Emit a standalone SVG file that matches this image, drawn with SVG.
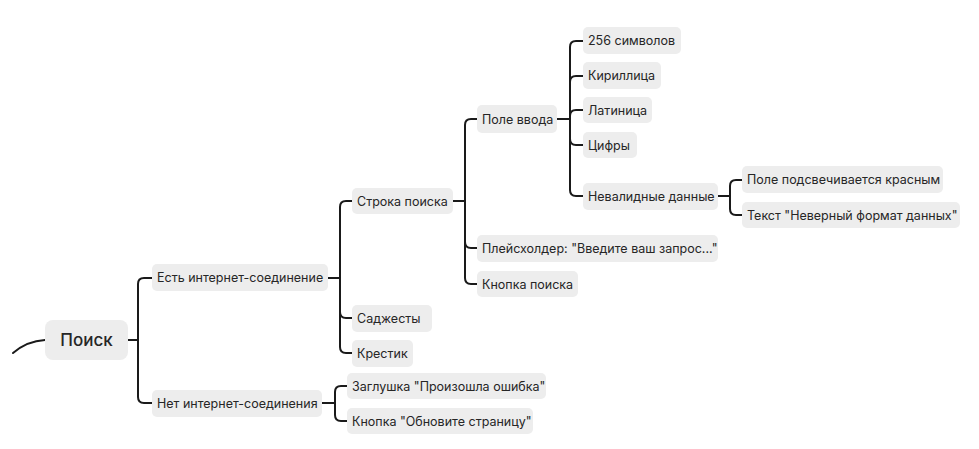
<svg xmlns="http://www.w3.org/2000/svg" width="979" height="449" viewBox="0 0 979 449">
  <style>
    .box { fill: #ededed; }
    .lbl { font-family: "Inter", "Noto Sans", "Liberation Sans", sans-serif; font-size: 12.5px; fill: #262626; }
    .root { font-size: 17px; font-weight: 500; }
    .edge { fill: none; stroke: #1a1a1a; stroke-width: 2; stroke-linecap: round; }
  </style>
  <rect width="979" height="449" fill="#ffffff"/>

  <g id="connectors">
    <!-- incoming stub into the root -->
    <path class="edge" d="M13,353 Q27,341 45,340"/>
    <!-- Поиск -->
    <path class="edge" d="M128,340 H138 V284 Q138,278 144,278 H152"/>
    <path class="edge" d="M138,340 V397 Q138,403 144,403 H152"/>
    <!-- Есть интернет-соединение -->
    <path class="edge" d="M328,278 H340 V207 Q340,201 346,201 H352"/>
    <path class="edge" d="M340,278 V312 Q340,318 346,318 H352"/>
    <path class="edge" d="M340,278 V347 Q340,353 346,353 H352"/>
    <!-- Нет интернет-соединения -->
    <path class="edge" d="M322,403 H335 V392 Q335,386 341,386 H347"/>
    <path class="edge" d="M335,403 V415 Q335,421 341,421 H347"/>
    <!-- Строка поиска -->
    <path class="edge" d="M453,201 H465 V125 Q465,119 471,119 H477"/>
    <path class="edge" d="M465,201 V242 Q465,248 471,248 H477"/>
    <path class="edge" d="M465,201 V278 Q465,284 471,284 H477"/>
    <!-- Поле ввода -->
    <path class="edge" d="M557,119 H570 V47 Q570,41 576,41 H583"/>
    <path class="edge" d="M570,119 V82 Q570,76 576,76 H583"/>
    <path class="edge" d="M570,119 V116 Q570,110 576,110 H583"/>
    <path class="edge" d="M570,119 V139 Q570,145 576,145 H583"/>
    <path class="edge" d="M570,119 V190 Q570,196 576,196 H583"/>
    <!-- Невалидные данные -->
    <path class="edge" d="M718,196 H730 V186 Q730,180 736,180 H742"/>
    <path class="edge" d="M730,196 V209 Q730,215 736,215 H742"/>
  </g>

  <g id="n-root">
    <rect class="box" x="45" y="320" width="83" height="40" rx="8"/>
    <text class="lbl root" x="86.5" y="346" text-anchor="middle">Поиск</text>
  </g>

  <g id="n-online">
    <rect class="box" x="152" y="264" width="176" height="27" rx="5"/>
    <text class="lbl" x="157" y="282">Есть интернет-соединение</text>
  </g>
  <g id="n-offline">
    <rect class="box" x="152" y="390" width="170" height="27" rx="5"/>
    <text class="lbl" x="157" y="408">Нет интернет-соединения</text>
  </g>

  <g id="n-searchbar">
    <rect class="box" x="352" y="188" width="101" height="26" rx="5"/>
    <text class="lbl" x="357" y="206">Строка поиска</text>
  </g>
  <g id="n-suggests">
    <rect class="box" x="352" y="305" width="80" height="27" rx="5"/>
    <text class="lbl" x="357" y="323">Саджесты</text>
  </g>
  <g id="n-clear">
    <rect class="box" x="352" y="340" width="61" height="27" rx="5"/>
    <text class="lbl" x="357" y="358">Крестик</text>
  </g>

  <g id="n-stub">
    <rect class="box" x="347" y="373" width="199" height="26" rx="5"/>
    <text class="lbl" x="352" y="391">Заглушка "Произошла ошибка"</text>
  </g>
  <g id="n-reload">
    <rect class="box" x="347" y="408" width="186" height="26" rx="5"/>
    <text class="lbl" x="352" y="426">Кнопка "Обновите страницу"</text>
  </g>

  <g id="n-input">
    <rect class="box" x="477" y="105" width="80" height="28" rx="5"/>
    <text class="lbl" x="482" y="124">Поле ввода</text>
  </g>
  <g id="n-placeholder">
    <rect class="box" x="477" y="235" width="241" height="27" rx="5"/>
    <text class="lbl" x="482" y="253">Плейсхолдер: "Введите ваш запрос..."</text>
  </g>
  <g id="n-searchbtn">
    <rect class="box" x="477" y="271" width="101" height="26" rx="5"/>
    <text class="lbl" x="482" y="289">Кнопка поиска</text>
  </g>

  <g id="n-256">
    <rect class="box" x="583" y="27" width="98" height="27" rx="5"/>
    <text class="lbl" x="588" y="45">256 символов</text>
  </g>
  <g id="n-cyr">
    <rect class="box" x="583" y="62" width="78" height="27" rx="5"/>
    <text class="lbl" x="588" y="80">Кириллица</text>
  </g>
  <g id="n-lat">
    <rect class="box" x="583" y="97" width="69" height="26" rx="5"/>
    <text class="lbl" x="588" y="115">Латиница</text>
  </g>
  <g id="n-digits">
    <rect class="box" x="583" y="132" width="54" height="26" rx="5"/>
    <text class="lbl" x="588" y="150">Цифры</text>
  </g>
  <g id="n-invalid">
    <rect class="box" x="583" y="183" width="135" height="27" rx="5"/>
    <text class="lbl" x="588" y="201">Невалидные данные</text>
  </g>

  <g id="n-red">
    <rect class="box" x="742" y="166" width="201" height="27" rx="5"/>
    <text class="lbl" x="747" y="184">Поле подсвечивается красным</text>
  </g>
  <g id="n-format">
    <rect class="box" x="742" y="202" width="218" height="26" rx="5"/>
    <text class="lbl" x="747" y="220">Текст "Неверный формат данных"</text>
  </g>
</svg>
